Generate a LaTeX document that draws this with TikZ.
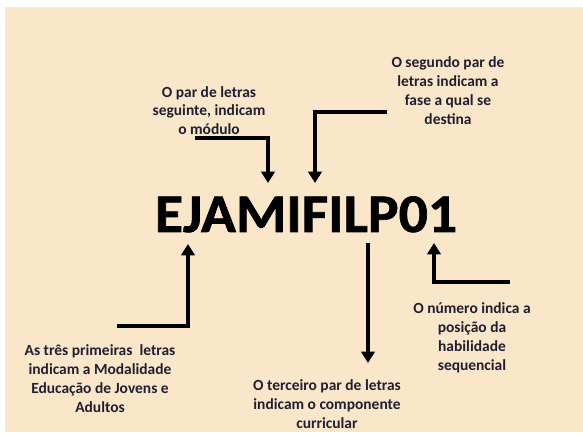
\documentclass[tikz,border=0pt]{standalone}
\usepackage{fontspec}
\setmainfont{Carlito}
\newfontfamily\bigf[BoldFeatures={FakeBold=1.2}]{Carlito}
\usetikzlibrary{arrows.meta}
\definecolor{beige}{RGB}{250,230,201}
\definecolor{ink}{RGB}{32,30,48}
\begin{document}
\begin{tikzpicture}[x=0.75pt,y=-0.75pt,
  lab/.style={align=center,inner sep=0pt,text=ink,font=\bfseries\fontsize{11.6}{14.3}\selectfont},
  arr/.style={line width=2.3pt,-{Triangle[width=10pt,length=8.5pt]},black}]
\useasboundingbox (0,0) rectangle (583,434);
\fill[white] (0,0) rectangle (583,434);
\fill[beige] (5,7) rectangle (583,432);
\node[anchor=base,inner sep=0pt,font=\bigf\bfseries\fontsize{40.8}{42}\selectfont] (code) at (306,232) {\scalebox{1.06}[1]{EJAMIFILP01}};
\node[lab,font=\bfseries\fontsize{11.6}{13.9}\selectfont] (l1) at (209,110.5) {O par de letras\\seguinte, indicam\\o módulo};
\node[lab] (l2) at (448,91) {O segundo par de\\letras indicam a\\fase a qual se\\destina};
\node[lab] (l3) at (100,379) {As três primeiras\ \ letras\\indicam a Modalidade\\Educação de Jovens e\\Adultos};
\node[lab] (l4) at (327,404.5) {O terceiro par de letras\\indicam o componente\\curricular};
\node[lab] (l5) at (472,338) {O número indica a\\posição da\\habilidade\\sequencial};
% arrow coordinates
\coordinate (a1s) at (117,326); \coordinate (a1t) at (188,244);
\coordinate (a2s) at (195,138); \coordinate (a2t) at (268,183);
\coordinate (a3s) at (387,112); \coordinate (a3t) at (315,183);
\coordinate (a4s) at (368,243); \coordinate (a4t) at (368,363);
\coordinate (a5s) at (510,282); \coordinate (a5t) at (434,243);
\draw[arr] (a1s) -| (a1t);
\draw[arr] (a2s) -| (a2t);
\draw[arr] (a3s) -| (a3t);
\draw[arr] (a4s) -- (a4t);
\draw[arr] (a5s) -| (a5t);
\end{tikzpicture}
\end{document}
